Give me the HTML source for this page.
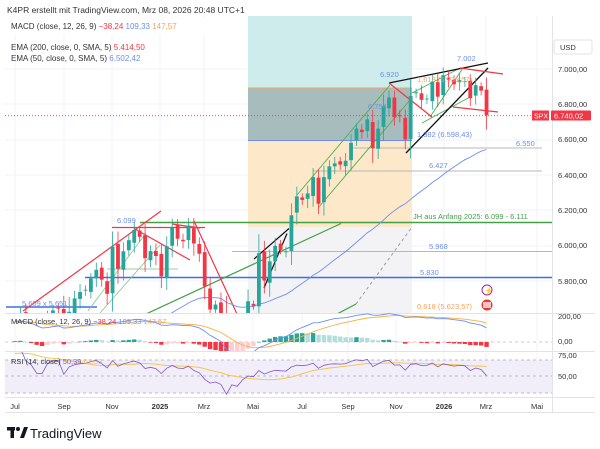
<!DOCTYPE html>
<html><head><meta charset="utf-8"><style>
html,body{margin:0;padding:0;background:#fff;width:600px;height:449px;overflow:hidden}
svg{display:block;font-family:"Liberation Sans",sans-serif}
</style></head><body>
<svg id="s" width="600" height="449" viewBox="0 0 600 449" xmlns="http://www.w3.org/2000/svg">
<defs>
<clipPath id="cm"><rect x="5" y="16" width="547" height="297"/></clipPath>
<clipPath id="cd"><rect x="5" y="313" width="547" height="38"/></clipPath>
<clipPath id="cr"><rect x="5" y="352" width="547" height="45"/></clipPath>
</defs>
<rect width="600" height="449" fill="#fff"/>
<text x="7" y="13" font-size="8.5" fill="#333">K4PR erstellt mit TradingView.com, Mrz 08, 2026 20:48 UTC+1</text>
<g id="grid" stroke="#f0f3fa" stroke-width="1"></g>
<rect x="248" y="16" width="164" height="72" fill="#cdeceb"/>
<rect x="248" y="88" width="164" height="52" fill="#a6bcbd"/>
<rect x="248" y="140" width="164" height="87" fill="#fde8c9"/>
<rect x="248" y="227" width="164" height="86" fill="#f3f3f6"/>
<line x1="248" y1="88" x2="412" y2="88" stroke="#f5a35c" stroke-width="1"/>
<line x1="248" y1="140.5" x2="412" y2="140.5" stroke="#6d8ef0" stroke-width="1"/>
<g clip-path="url(#cm)" fill="none">
<line x1="140" y1="222.5" x2="552" y2="222.5" stroke="#43a047" stroke-width="1.6"/>
<line x1="85" y1="277.5" x2="552" y2="277.5" stroke="#3f6ee8" stroke-width="1.4"/>
<line x1="6" y1="307" x2="97" y2="307" stroke="#3f6ee8" stroke-width="1.4"/>
<line x1="232" y1="251.5" x2="552" y2="251.5" stroke="#b8b8b8"/>
<line x1="350" y1="148" x2="542" y2="148" stroke="#b8b8b8"/>
<line x1="313" y1="171" x2="542" y2="171" stroke="#b8b8b8"/>
<line x1="107" y1="269" x2="178" y2="269" stroke="#9ccc9c"/>
<line x1="112" y1="227.5" x2="205" y2="227.5" stroke="#f23645" stroke-width="1.2"/>
<line x1="5" y1="115.7" x2="552" y2="115.7" stroke="#f23645" stroke-dasharray="1,2" stroke-width="0.8"/>
<line x1="356" y1="304" x2="412" y2="227" stroke="#999" stroke-dasharray="3,3"/>
<line x1="146" y1="314" x2="341" y2="223.5" stroke="#43a047" stroke-width="1.2"/>
<line x1="337" y1="314" x2="356" y2="304" stroke="#43a047" stroke-width="1.2"/>
<line x1="23" y1="311" x2="161" y2="211" stroke="#f23645" stroke-width="1.2"/>
<line x1="194" y1="221" x2="237" y2="314" stroke="#f23645" stroke-width="1.2"/>
<line x1="134" y1="228.5" x2="190" y2="260" stroke="#f23645" stroke-width="1.2"/>
<line x1="172" y1="224" x2="200" y2="228" stroke="#f23645" stroke-width="1.2"/>
<line x1="254" y1="259" x2="289" y2="228.5" stroke="#111" stroke-width="1.2"/>
<line x1="264" y1="288" x2="287" y2="233.5" stroke="#111" stroke-width="1.2"/>
<line x1="88" y1="311" x2="146" y2="233" stroke="#8bc48b" stroke-width="0.8"/>
<line x1="100" y1="313" x2="160" y2="245" stroke="#8bc48b" stroke-width="0.8"/>
<line x1="297" y1="195" x2="390" y2="85" stroke="#4caf50" stroke-width="0.9"/>
<line x1="318" y1="208" x2="410" y2="100" stroke="#4caf50" stroke-width="0.9"/>
<line x1="412" y1="93" x2="460" y2="68" stroke="#4caf50" stroke-width="0.9"/>
<line x1="422" y1="123" x2="470" y2="97" stroke="#4caf50" stroke-width="0.9"/>
<line x1="430" y1="117" x2="463" y2="68" stroke="#4caf50" stroke-width="0.9"/>
<line x1="389" y1="83" x2="488" y2="63" stroke="#111" stroke-width="1.3"/>
<line x1="406" y1="153" x2="488" y2="68" stroke="#111" stroke-width="1.3"/>
<line x1="389" y1="83" x2="432" y2="117" stroke="#f23645" stroke-width="1.2"/>
<line x1="460" y1="68" x2="503" y2="74" stroke="#f23645" stroke-width="1.2"/>
<line x1="453" y1="107" x2="498" y2="112" stroke="#f23645" stroke-width="1.2"/>
<polyline id="ema50" stroke="#6d8ef0" stroke-width="0.9"/>
<g id="candles"></g>
</g>
<g font-size="7.5">
<text x="22" y="306" fill="#6d8ef0">5.609 x 5.651</text>
<text x="117" y="223" fill="#6d8ef0">6.099</text>
<text x="380" y="77" fill="#6d8ef0">6.920</text>
<text x="457" y="61" fill="#6d8ef0">7.002</text>
<text x="368" y="109" fill="#6d8ef0">6.754</text>
<text x="417" y="82" fill="#f5a35c">1,618 (6.933,57)</text>
<text x="417" y="137" fill="#6d8ef0">1,382 (6.598,43)</text>
<text x="516" y="146" fill="#6d8ef0">6.550</text>
<text x="429" y="168" fill="#6d8ef0">6.427</text>
<text x="413" y="219" fill="#43a047">JH aus Anfang 2025: 6.099 - 6.111</text>
<text x="429" y="249" fill="#6d8ef0">5.968</text>
<text x="420" y="275" fill="#6d8ef0">5.830</text>
<text x="417" y="309" fill="#f5a35c">0,618 (5.623,57)</text>
</g>
<circle cx="487" cy="290" r="5" fill="#fff" stroke="#9c27b0"/>
<text x="484.5" y="293" font-size="7" fill="#9c27b0">⚡</text>
<circle cx="487" cy="305" r="5.5" fill="#e53935"/>
<rect x="483" y="302" width="8" height="6" fill="#fff" opacity="0.7"/>
<rect x="5" y="17" width="240" height="18" fill="#fff" opacity="0.9"/>
<text x="11" y="29" font-size="8" fill="#333">MACD (close, 12, 26, 9) <tspan fill="#f23645">−38,24</tspan> <tspan fill="#6d8ef0">109,33</tspan> <tspan fill="#f5a35c">147,57</tspan></text>
<text x="11" y="50" font-size="8" fill="#333">EMA (200, close, 0, SMA, 5) <tspan fill="#f23645">5.414,50</tspan></text>
<text x="11" y="61" font-size="8" fill="#333">EMA (50, close, 0, SMA, 5) <tspan fill="#6d8ef0">6.502,42</tspan></text>
<line x1="5" y1="313.5" x2="595" y2="313.5" stroke="#e0e3eb"/>
<line x1="5" y1="342" x2="552" y2="342" stroke="#bbb" stroke-dasharray="3,3" stroke-width="0.7"/>
<g clip-path="url(#cd)"><g id="hist"></g>
<polyline id="sig" fill="none" stroke="#f5b041" stroke-width="0.9"/>
<polyline id="macd" fill="none" stroke="#6d8ef0" stroke-width="0.9"/></g>
<text x="11" y="324" font-size="7.5" fill="#333">MACD (close, 12, 26, 9) <tspan fill="#f23645">−38,24</tspan> <tspan fill="#6d8ef0">109,33</tspan> <tspan fill="#f5a35c">147,57</tspan></text>
<line x1="5" y1="351.5" x2="595" y2="351.5" stroke="#e0e3eb"/>
<rect x="5" y="360" width="547" height="33" fill="#f1eefa"/>
<line x1="5" y1="360" x2="552" y2="360" stroke="#aaa" stroke-dasharray="3,3" stroke-width="0.7"/>
<line x1="5" y1="376" x2="552" y2="376" stroke="#aaa" stroke-dasharray="3,3" stroke-width="0.7"/>
<line x1="5" y1="393" x2="552" y2="393" stroke="#aaa" stroke-dasharray="3,3" stroke-width="0.7"/>
<g clip-path="url(#cr)">
<polyline id="rsima" fill="none" stroke="#f5c242" stroke-width="0.9"/>
<polyline id="rsi" fill="none" stroke="#7e57c2" stroke-width="0.8"/></g>
<text x="11" y="364" font-size="7.5" fill="#333">RSI (14, close) <tspan fill="#7e57c2">50,39</tspan> <tspan fill="#f5c242">61,33</tspan></text>
<line x1="552.5" y1="16" x2="552.5" y2="412" stroke="#e0e3eb"/>
<line x1="5" y1="397.5" x2="595" y2="397.5" stroke="#e0e3eb"/>
<line x1="5" y1="412.5" x2="595" y2="412.5" stroke="#e0e3eb"/>
<rect x="554" y="40" width="38" height="14" fill="#fff" stroke="#e0e3eb" rx="2"/>
<text x="560" y="50" font-size="7.5" fill="#333">USD</text>
<g font-size="7.5" fill="#333">
<text x="558" y="72">7.000,00</text><text x="558" y="107">6.800,00</text><text x="558" y="142">6.600,00</text>
<text x="558" y="178">6.400,00</text><text x="558" y="213">6.200,00</text><text x="558" y="248">6.000,00</text>
<text x="558" y="284">5.800,00</text>
<text x="558" y="319">200,00</text><text x="558" y="344">0,00</text>
<text x="558" y="358">75,00</text><text x="558" y="379">50,00</text>
</g>
<rect x="532" y="110.5" width="17" height="10" fill="#f23645"/>
<text x="534" y="118.5" font-size="7" fill="#fff">SPX</text>
<rect x="551" y="110.5" width="40" height="10" fill="#f23645" rx="1"/>
<text x="554" y="118.5" font-size="7.5" fill="#fff">6.740,02</text>
<g font-size="7.5" fill="#333" text-anchor="middle">
<text x="15" y="409">Jul</text><text x="64" y="409">Sep</text><text x="112" y="409">Nov</text>
<text x="160" y="409" font-weight="bold">2025</text><text x="204" y="409">Mrz</text><text x="253" y="409">Mai</text>
<text x="302" y="409">Jul</text><text x="348" y="409">Sep</text><text x="396" y="409">Nov</text>
<text x="444" y="409" font-weight="bold">2026</text><text x="486" y="409">Mrz</text><text x="537" y="409">Mai</text>
</g>
<rect x="7" y="427" width="8" height="3.5" fill="#131722"/>
<rect x="10.5" y="427" width="3.5" height="11" fill="#131722"/>
<circle cx="18" cy="429" r="2" fill="#131722"/>
<polygon points="20,438 24,427 28,427 24,438" fill="#131722"/>
<text x="30" y="438" font-size="13" fill="#131722">TradingView</text>
</svg>
<script>
var C=[5567,5615,5505,5459,5346,5344,5554,5634,5648,5408,5626,5702,5738,5751,5815,5864,5808,5728,5995,5870,5969,6032,6090,6051,5930,5970,5942,5827,5997,6101,6040,6026,6115,6013,5955,5770,5639,5667,5581,5074,5363,5283,5525,5686,5660,5958,5803,5912,6000,5977,5968,6173,6280,6260,6297,6389,6238,6389,6450,6467,6460,6482,6584,6664,6644,6716,6553,6664,6791,6840,6728,6734,6603,6849,6870,6827,6834,6930,6845,6966,6940,6915,6939,6932,6836,6910,6879,6740];
var NS="http://www.w3.org/2000/svg";
function el(t,a,p){var e=document.createElementNS(NS,t);for(var k in a)e.setAttribute(k,a[k]);p.appendChild(e);return e;}
function X(i){return 15+i*5.42;}
function Y(p){return 69.3+(7000-p)*0.1765;}
var g=document.getElementById('candles');
for(var i=0;i<C.length;i++){
 var c=C[i],o=i?C[i-1]+((i*37)%11-5)*3:5480;
 var d=Math.abs(c-o),w=12+d*0.25+((i*53)%7)*4;
 var h=Math.max(o,c)+w,l=Math.min(o,c)-w*1.2;
 var col=c>=o?'#26a69a':'#f23645',x=X(i);
 el('line',{x1:x,x2:x,y1:Y(h),y2:Y(l),stroke:col,'stroke-width':0.8},g);
 var t=Y(Math.max(o,c)),b=Y(Math.min(o,c));
 el('rect',{x:x-1.9,y:t,width:3.8,height:Math.max(0.8,b-t),fill:col},g);
}
var H=[];for(var k=0;k<60;k++)H.push(4200+k*22+Math.sin(k)*60);
var A=H.concat(C),off=H.length;
function ema(a,n){var k=2/(n+1),r=[a[0]];for(var i=1;i<a.length;i++)r.push(a[i]*k+r[i-1]*(1-k));return r;}
var e50=ema(A,50),pts=[];
for(var i=0;i<C.length;i++)pts.push(X(i).toFixed(1)+','+Y(e50[i+off]+40).toFixed(1));
document.getElementById('ema50').setAttribute('points',pts.join(' '));
var e12=ema(A,12),e26=ema(A,26),m=A.map(function(v,i){return e12[i]-e26[i];}),s=ema(m,9);
function MY(v){return 342-v*0.13;}
var mp=[],sp=[],hg=document.getElementById('hist');
for(var i=0;i<C.length;i++){var j=i+off,x=X(i);mp.push(x.toFixed(1)+','+MY(m[j]).toFixed(1));sp.push(x.toFixed(1)+','+MY(s[j]).toFixed(1));
 var h=m[j]-s[j],hp=m[j-1]-s[j-1];var col=h>=0?(h>=hp?'#26a69a':'#b2dfdb'):(h<hp?'#f23645':'#ffcdd2');
 var y1=MY(Math.max(h,0)),y2=MY(Math.min(h,0));el('rect',{x:x-2.2,y:y1,width:4.4,height:Math.max(0.6,y2-y1),fill:col},hg);}
document.getElementById('macd').setAttribute('points',mp.join(' '));
document.getElementById('sig').setAttribute('points',sp.join(' '));
var ag=0,al=0,R=[];for(var i=1;i<A.length;i++){var d=A[i]-A[i-1];ag=(ag*13+Math.max(d,0))/14;al=(al*13+Math.max(-d,0))/14;R.push(al?100-100/(1+ag/al):70);}
R.unshift(60);var rm=[];for(var i=0;i<R.length;i++){var q=0,n=0;for(var k=Math.max(0,i-13);k<=i;k++){q+=R[k];n++;}rm.push(q/n);}
function RY(v){return 376-(v-50)*0.8;}
var rp=[],rq=[];for(var i=0;i<C.length;i++){rp.push(X(i).toFixed(1)+','+RY(R[i+off]).toFixed(1));rq.push(X(i).toFixed(1)+','+RY(rm[i+off]).toFixed(1));}
document.getElementById('rsi').setAttribute('points',rp.join(' '));
document.getElementById('rsima').setAttribute('points',rq.join(' '));
var gr=document.getElementById('grid');[15,64,112,160,204,253,302,348,396,444,486,537].forEach(function(x){el('line',{x1:x,x2:x,y1:16,y2:397},gr);});
[69,104,140,175,210,246,281].forEach(function(y){el('line',{x1:5,x2:552,y1:y,y2:y},gr);});
</script>
</body></html>
